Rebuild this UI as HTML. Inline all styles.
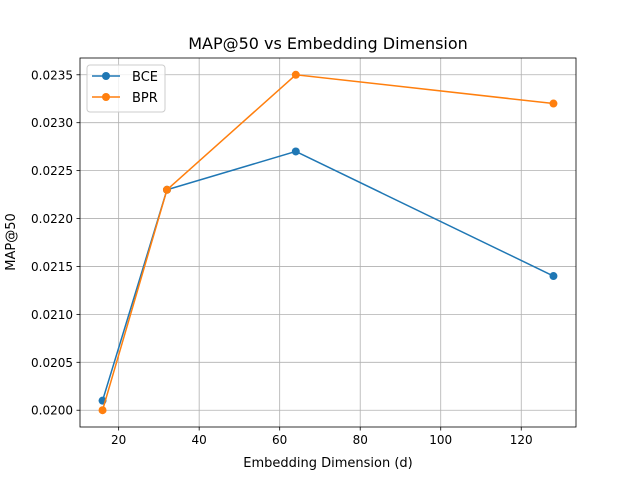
<!DOCTYPE html>
<html><head><meta charset="utf-8"><style>
body{margin:0;background:#fff;}
svg{display:block;font-family:"DejaVu Sans","Liberation Sans",sans-serif;}
</style></head><body>
<svg id="chart" width="640" height="480" viewBox="0 0 640 480">
<rect width="640" height="480" fill="#fff"/>
<text x="328" y="49" font-size="16" text-anchor="middle" fill="#000">MAP@50 vs Embedding Dimension</text>
<g id="grid"></g>
<g id="ticks"></g>
<g id="series"></g>
<rect x="80" y="58" width="496" height="369" fill="none" stroke="#000" stroke-width="0.8"/>
<text x="328" y="467" font-size="13" text-anchor="middle">Embedding Dimension (d)</text>
<text x="0" y="0" font-size="13" text-anchor="middle" transform="translate(15,242) rotate(-90)">MAP@50</text>
<g id="legend">
<rect x="87" y="65" width="78" height="47" rx="3" fill="#fff" fill-opacity="0.8" stroke="#ccc"/>
<g>
<line x1="92" y1="76" x2="120" y2="76" stroke="#1f77b4" stroke-width="1.5"/><circle cx="106" cy="76" r="4" fill="#1f77b4"/>
<text x="132" y="81" font-size="13">BCE</text></g>
<g>
<line x1="92" y1="97" x2="120" y2="97" stroke="#ff7f0e" stroke-width="1.5"/><circle cx="106" cy="97" r="4" fill="#ff7f0e"/>
<text x="132" y="102" font-size="13">BPR</text></g>
</g>
</svg>
<script>
const dims = [16, 32, 64, 128];
const bce = [0.0201, 0.0223, 0.0227, 0.0214];
const bpr = [0.0200, 0.0223, 0.0235, 0.0232];
const xTicks = [20, 40, 60, 80, 100, 120];
const yTicks = [0.0200, 0.0205, 0.0210, 0.0215, 0.0220, 0.0225, 0.0230, 0.0235];

const NS = "http://www.w3.org/2000/svg";
const L = 80, R = 576, T = 58, B = 427;
const xmin = 10.4, xmax = 133.6, ymin = 0.019825, ymax = 0.023675;
const xs = v => L + (v - xmin) / (xmax - xmin) * (R - L);
const ys = v => B - (v - ymin) / (ymax - ymin) * (B - T);
function mk(tag, attrs, parent) {
  const e = document.createElementNS(NS, tag);
  for (const k in attrs) e.setAttribute(k, attrs[k]);
  parent.appendChild(e); return e;
}
const grid = document.getElementById('grid'), ticks = document.getElementById('ticks'), series = document.getElementById('series');
xTicks.forEach(t => {
  const x = xs(t);
  const g = mk('line', {x1: x, x2: x, y1: T, y2: B, stroke: '#b0b0b0', 'stroke-width': 0.8}, grid);
  
  
  mk('line', {x1: x, x2: x, y1: B, y2: B + 3.5, stroke: '#000', 'stroke-width': 0.8}, ticks);
  const tx = mk('text', {x: x, y: B + 17, 'font-size': 12, 'text-anchor': 'middle'}, ticks);
  tx.textContent = t;
  
  
});
yTicks.forEach(t => {
  const y = ys(t);
  const g = mk('line', {x1: L, x2: R, y1: y, y2: y, stroke: '#b0b0b0', 'stroke-width': 0.8}, grid);
  
  
  mk('line', {x1: L - 3.5, x2: L, y1: y, y2: y, stroke: '#000', 'stroke-width': 0.8}, ticks);
  const tx = mk('text', {x: L - 7, y: y + 4.5, 'font-size': 12, 'text-anchor': 'end'}, ticks);
  tx.textContent = t.toFixed(4);
  
  
});
function draw(vals, color, name) {
  const g = mk('g', {}, series);
  
  
  const pl = mk('polyline', {points: dims.map((d, i) => xs(d) + ',' + ys(vals[i])).join(' '), fill: 'none', stroke: color, 'stroke-width': 1.5}, g);
  
  
  dims.forEach((d, i) => {
    const c = mk('circle', {cx: xs(d), cy: ys(vals[i]), r: 4, fill: color}, g);
    
    
  });
}
draw(bce, '#1f77b4', 'bce');
draw(bpr, '#ff7f0e', 'bpr');
</script>
</body></html>
